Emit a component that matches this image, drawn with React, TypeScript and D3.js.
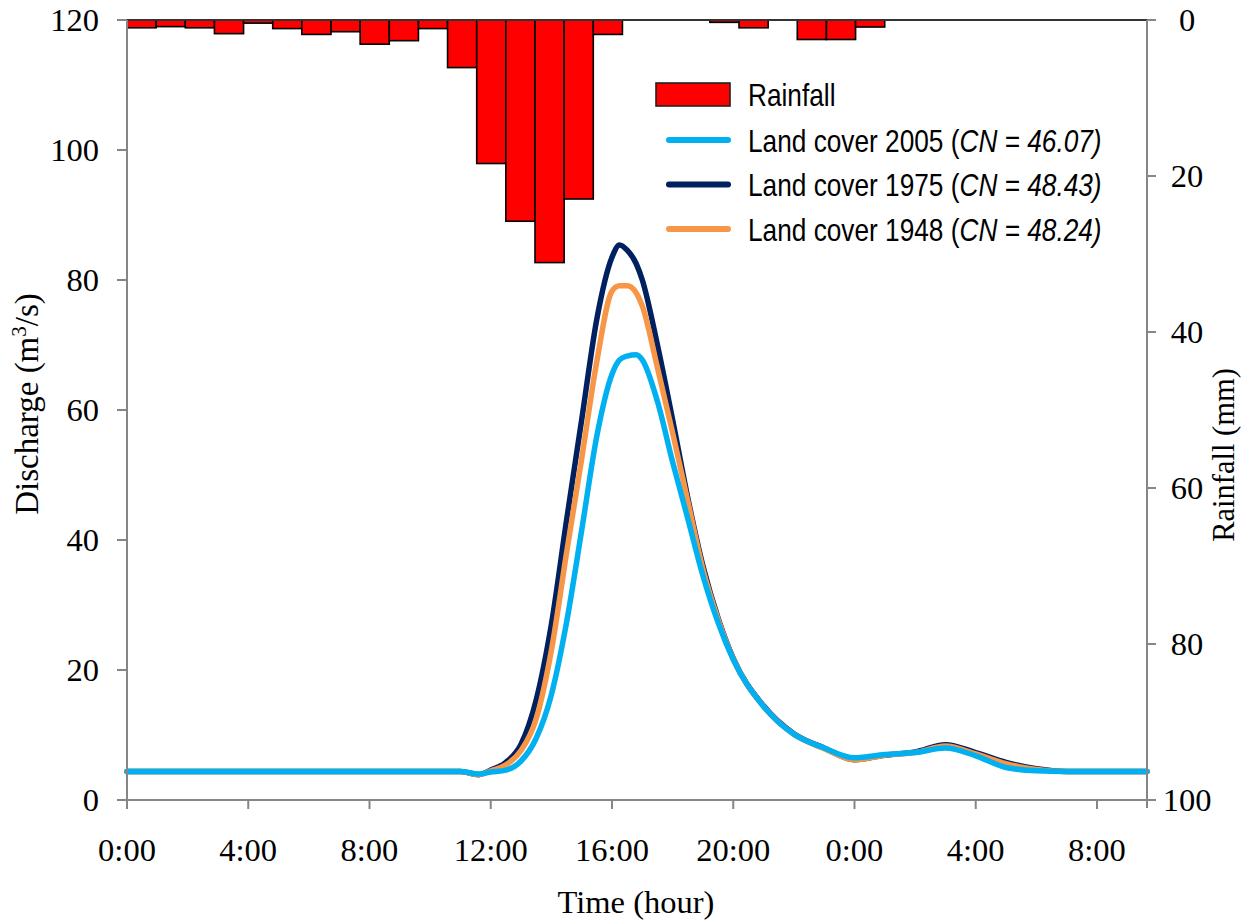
import React from "react";
import * as d3 from "d3";

// ---- Data ----
const rainfallMm = [
  1.0, 0.85, 1.0, 1.75, 0.4, 1.1, 1.85, 1.5, 3.1, 2.65, 1.1, 6.1, 18.4, 25.8, 31.1, 22.95,
  1.85, 0, 0, 0, 0.3, 1.0, 0, 2.5, 2.5, 0.9, 0, 0, 0, 0, 0, 0, 0, 0, 0,
];

const timeHours = [
  0, 2, 4, 6, 8, 10, 11, 11.6, 12, 12.5, 13, 13.5, 14, 14.5, 15, 15.5, 16, 16.25, 16.5, 16.8,
  17, 17.5, 18, 18.5, 19, 19.5, 20, 21, 22, 23, 24, 25, 26, 27, 28, 29, 30, 31, 32, 33.65,
];

const q1975 = [
  4.4, 4.4, 4.4, 4.4, 4.4, 4.4, 4.4, 3.9, 4.6, 5.8, 8.6, 15.4, 27, 43, 58.5, 74, 83.5, 85.4, 84.6, 82.5,
  80, 70, 58.5, 46.5, 36, 28, 21.8, 14.5, 10.2, 8.0, 6.2, 6.9, 7.4, 8.5, 7.3, 5.8, 4.8, 4.4, 4.4, 4.4,
];

const q1948 = [
  4.4, 4.4, 4.4, 4.4, 4.4, 4.4, 4.4, 3.9, 4.5, 5.4, 7.6, 12.5, 23, 38, 52.5, 67.5, 78.3, 79.1, 79.1, 78,
  76, 66.5, 56.5, 46, 35.5, 27.8, 21.7, 14.4, 10.1, 7.9, 6.2, 6.9, 7.3, 8.3, 7.1, 5.6, 4.7, 4.4, 4.4, 4.4,
];

const q2005 = [
  4.4, 4.4, 4.4, 4.4, 4.4, 4.4, 4.4, 4.0, 4.3, 4.6, 6.0, 9.5, 16.2, 27.3, 41.5, 56, 65.5, 67.7, 68.3, 68.5,
  67.7, 61.3, 52, 43.3, 34.5, 27.3, 21.6, 14.4, 10.1, 8.0, 6.5, 7.0, 7.3, 8.0, 6.8, 5.0, 4.5, 4.4, 4.4, 4.4,
];

const xTickHours = [0, 4, 8, 12, 16, 20, 24, 28, 32];
const xTickLabels = ["0:00", "4:00", "8:00", "12:00", "16:00", "20:00", "0:00", "4:00", "8:00"];
const dischargeTicks = [0, 20, 40, 60, 80, 100, 120];
const rainTicks = [0, 20, 40, 60, 80, 100];

const seriesNames = ["Land cover 2005", "Land cover 1975", "Land cover 1948"];
const seriesCN = ["46.07", "48.43", "48.24"];

// ---- Layout ----
const W = 1245;
const H = 920;
const L = 127;
const R = 1147;
const T = 20;
const B = 800;

const AXIS = "#868686";
const SERIF = "'Liberation Serif', 'Times New Roman', serif";
const SANS = "'Liberation Sans', Arial, sans-serif";
const FS = 32.5;

export default function App() {
  const x = d3.scaleLinear().domain([0, 33.65]).range([L, R]);
  const yQ = d3.scaleLinear().domain([0, 120]).range([B, T]);
  const yR = d3.scaleLinear().domain([0, 100]).range([T, B]);
  const band = d3
    .scaleBand<number>()
    .domain(rainfallMm.map((_, i) => i))
    .range([L, R])
    .padding(0);

  const line = (vals: number[]) =>
    d3
      .line<number>()
      .x((_, i) => x(timeHours[i]))
      .y((v) => yQ(v))
      .curve(d3.curveMonotoneX)(vals) || "";

  const series = [
    { vals: q1975, color: "#002060" },
    { vals: q1948, color: "#F79646" },
    { vals: q2005, color: "#00B0F0" },
  ];

  const legendItems = [
    { color: "#00B0F0", name: seriesNames[0], cn: seriesCN[0] },
    { color: "#002060", name: seriesNames[1], cn: seriesCN[1] },
    { color: "#F79646", name: seriesNames[2], cn: seriesCN[2] },
  ];

  return (
    <svg
      width={W}
      height={H}
      style={{ position: "absolute", left: 0, top: 0, background: "#fff" }}
    >
      {rainfallMm.map((v, i) =>
        v > 0 ? (
          <rect
            key={i}
            x={band(i)}
            y={yR(0)}
            width={band.bandwidth()}
            height={yR(v) - yR(0)}
            fill="#FF0000"
            stroke="#000"
            strokeWidth={1.6}
          />
        ) : null
      )}
      <line x1={L} x2={R} y1={T} y2={T} stroke="#333" strokeWidth={2} />

      {series.map((s, k) => (
        <path
          key={k}
          d={line(s.vals)}
          fill="none"
          stroke={s.color}
          strokeWidth={5.5}
          strokeLinejoin="round"
          strokeLinecap="round"
        />
      ))}

      {/* left axis */}
      <line x1={L} x2={L} y1={T} y2={B} stroke={AXIS} strokeWidth={2} />
      {dischargeTicks.map((t) => (
        <g key={t}>
          <line x1={L - 10} x2={L} y1={yQ(t)} y2={yQ(t)} stroke={AXIS} strokeWidth={2} />
          <text x={99} y={yQ(t)} dy="0.35em" textAnchor="end" fontFamily={SERIF} fontSize={FS} fill="#000">
            {t}
          </text>
        </g>
      ))}

      {/* right axis */}
      <line x1={R} x2={R} y1={T} y2={B + 8} stroke={AXIS} strokeWidth={2} />
      {rainTicks.map((t) => (
        <g key={t}>
          <line x1={R} x2={R + 9} y1={yR(t)} y2={yR(t)} stroke={AXIS} strokeWidth={2} />
          <text x={1187} y={yR(t)} dy="0.35em" textAnchor="middle" fontFamily={SERIF} fontSize={FS} fill="#000">
            {t}
          </text>
        </g>
      ))}

      {/* bottom axis */}
      <line x1={L} x2={R} y1={B} y2={B} stroke={AXIS} strokeWidth={2} />
      {xTickHours.map((h, i) => (
        <g key={i}>
          <line x1={x(h)} x2={x(h)} y1={B} y2={B + 9} stroke={AXIS} strokeWidth={2} />
          <text x={x(h)} y={861} textAnchor="middle" fontFamily={SERIF} fontSize={FS} fill="#000">
            {xTickLabels[i]}
          </text>
        </g>
      ))}

      {/* axis titles */}
      <text x={636} y={913} textAnchor="middle" fontFamily={SERIF} fontSize={FS} fill="#000">
        Time (hour)
      </text>
      <text
        transform="translate(38,404) rotate(-90)"
        textAnchor="middle"
        fontFamily={SERIF}
        fontSize={33}
        fill="#000"
      >
        Discharge (m
        <tspan fontSize={21} dy={-12}>
          3
        </tspan>
        <tspan dy={12}>/s)</tspan>
      </text>
      <text
        transform="translate(1234,455) rotate(-90)"
        textAnchor="middle"
        fontFamily={SERIF}
        fontSize={30.5}
        fill="#000"
      >
        Rainfall (mm)
      </text>

      {/* legend */}
      <rect x={656} y={83} width={74} height={23} fill="#FF0000" stroke="#222" strokeWidth={1.6} />
      <text transform="translate(748,106) scale(0.82,1)" fontFamily={SANS} fontSize={32} fill="#000">
        Rainfall
      </text>
      {legendItems.map((it, i) => {
        const yy = 140 + i * 44.5;
        return (
          <g key={i}>
            <line x1={669} x2={728} y1={yy} y2={yy} stroke={it.color} strokeWidth={6} strokeLinecap="round" />
            <text
              transform={`translate(748,${yy + 11.5}) scale(0.82,1)`}
              fontFamily={SANS}
              fontSize={32}
              fill="#000"
            >
              {it.name} (<tspan fontStyle="italic">CN = {it.cn})</tspan>
            </text>
          </g>
        );
      })}
    </svg>
  );
}
